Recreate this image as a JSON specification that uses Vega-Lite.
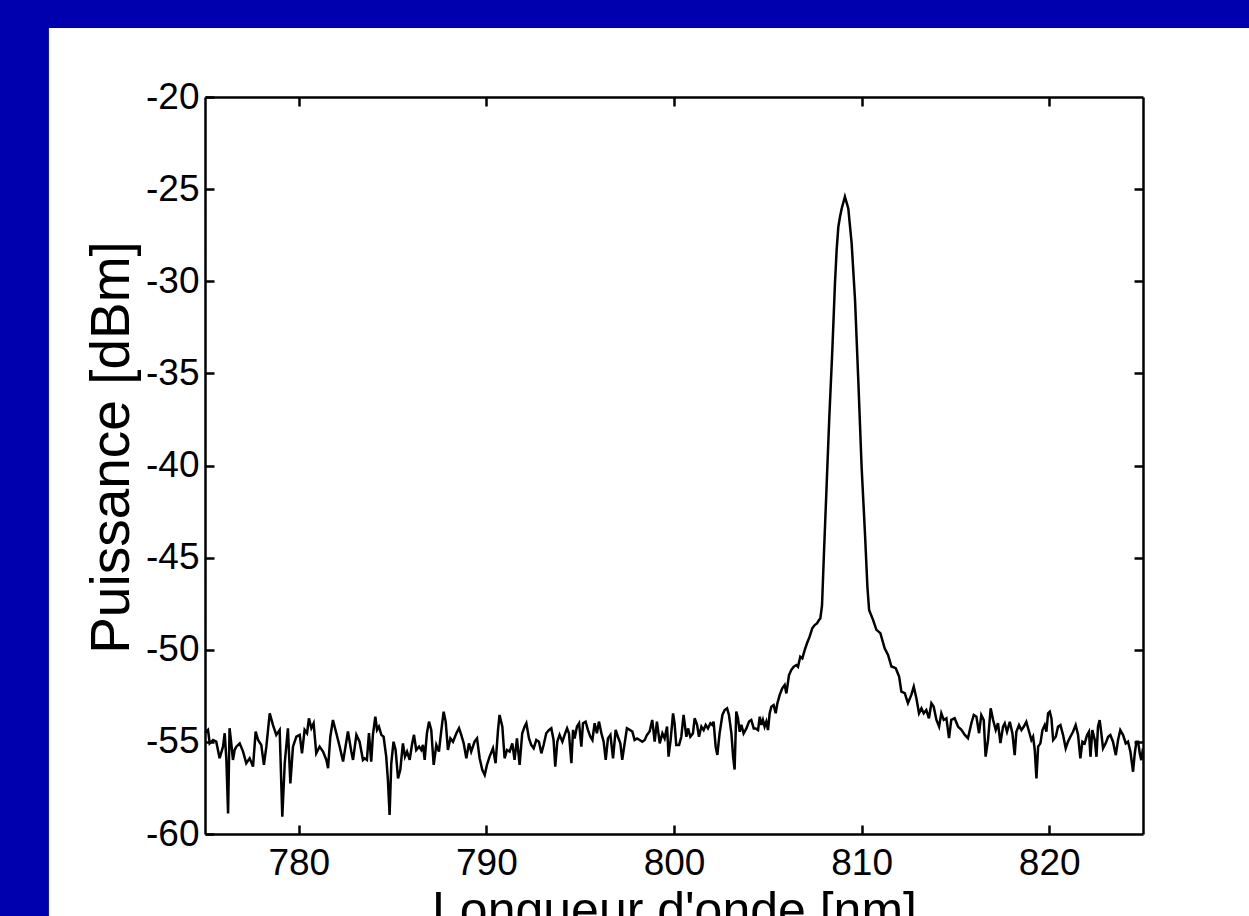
{
  "$schema": "https://vega.github.io/schema/vega-lite/v6.json",
  "width": 938,
  "height": 737,
  "autosize": "none",
  "padding": {"left": 205, "top": 97, "right": 106, "bottom": 82},
  "background": "#0000AF",
  "config": {"view": {"stroke": null}, "font": "Liberation Sans"},
  "resolve": {"axis": {"x": "independent", "y": "independent"}},
  "layer": [
    {
      "data": {"values": [{}]},
      "mark": {"type": "rect", "color": "white"},
      "encoding": {
        "x": {"datum": 766.68, "type": "quantitative", "scale": {"domain": [775, 825], "nice": false, "zero": false},
          "axis": {"orient": "top", "values": [780, 790, 800, 810, 820], "labels": false, "title": null, "grid": false, "tickSize": -9, "tickWidth": 2.5, "tickColor": "black", "domainColor": "black", "domainWidth": 2.5, "zindex": 1}},
        "x2": {"datum": 850},
        "y": {"datum": -16.26, "type": "quantitative", "scale": {"domain": [-60, -20], "nice": false, "zero": false},
          "axis": {"orient": "right", "values": [-55, -50, -45, -40, -35, -30, -25], "labels": false, "title": null, "grid": false, "tickSize": -9, "tickWidth": 2.5, "tickColor": "black", "domainColor": "black", "domainWidth": 2.5, "zindex": 1}},
        "y2": {"datum": -80}
      }
    },
    {
      "data": {"values": [
        {"wl": 775.00, "p": -54.5}, {"wl": 775.16, "p": -54.35}, {"wl": 775.25, "p": -55.08}, {"wl": 775.43, "p": -54.90},
        {"wl": 775.60, "p": -54.99}, {"wl": 775.78, "p": -55.89}, {"wl": 775.96, "p": -55.26}, {"wl": 776.05, "p": -54.53},
        {"wl": 776.14, "p": -55.98}, {"wl": 776.23, "p": -58.88}, {"wl": 776.31, "p": -54.26}, {"wl": 776.40, "p": -55.08},
        {"wl": 776.49, "p": -55.98}, {"wl": 776.58, "p": -55.44}, {"wl": 776.67, "p": -55.26}, {"wl": 776.85, "p": -55.08},
        {"wl": 777.03, "p": -55.53}, {"wl": 777.20, "p": -56.16}, {"wl": 777.38, "p": -55.89}, {"wl": 777.56, "p": -56.34},
        {"wl": 777.70, "p": -54.44}, {"wl": 777.83, "p": -54.90}, {"wl": 778.00, "p": -55.17}, {"wl": 778.14, "p": -56.25},
        {"wl": 778.27, "p": -55.26}, {"wl": 778.45, "p": -53.45}, {"wl": 778.62, "p": -54.08}, {"wl": 778.80, "p": -54.62},
        {"wl": 778.98, "p": -54.35}, {"wl": 779.12, "p": -59.06}, {"wl": 779.25, "p": -56.16}, {"wl": 779.42, "p": -54.26},
        {"wl": 779.55, "p": -57.25}, {"wl": 779.69, "p": -55.26}, {"wl": 779.87, "p": -54.72}, {"wl": 780.05, "p": -54.62},
        {"wl": 780.17, "p": -55.62}, {"wl": 780.31, "p": -54.35}, {"wl": 780.44, "p": -54.53}, {"wl": 780.54, "p": -53.72},
        {"wl": 780.67, "p": -54.26}, {"wl": 780.79, "p": -53.99}, {"wl": 780.93, "p": -55.62}, {"wl": 781.11, "p": -55.26},
        {"wl": 781.29, "p": -55.53}, {"wl": 781.47, "p": -55.98}, {"wl": 781.56, "p": -56.43}, {"wl": 781.68, "p": -54.72},
        {"wl": 781.82, "p": -53.81}, {"wl": 782.00, "p": -54.53}, {"wl": 782.18, "p": -55.26}, {"wl": 782.36, "p": -56.07},
        {"wl": 782.62, "p": -54.44}, {"wl": 782.80, "p": -55.53}, {"wl": 782.89, "p": -55.98}, {"wl": 783.07, "p": -54.62},
        {"wl": 783.24, "p": -54.99}, {"wl": 783.42, "p": -55.98},
        {"wl": 783.51, "p": -55.89}, {"wl": 783.63, "p": -55.98}, {"wl": 783.74, "p": -54.53}, {"wl": 783.86, "p": -56.07},
        {"wl": 783.95, "p": -54.62}, {"wl": 784.08, "p": -53.63}, {"wl": 784.17, "p": -54.35}, {"wl": 784.27, "p": -54.17},
        {"wl": 784.40, "p": -54.62}, {"wl": 784.52, "p": -54.72}, {"wl": 784.66, "p": -55.80}, {"wl": 784.75, "p": -57.07},
        {"wl": 784.84, "p": -58.97}, {"wl": 784.93, "p": -56.16}, {"wl": 785.05, "p": -54.99}, {"wl": 785.16, "p": -55.44},
        {"wl": 785.29, "p": -56.98}, {"wl": 785.41, "p": -56.52}, {"wl": 785.55, "p": -55.08}, {"wl": 785.66, "p": -55.80},
        {"wl": 785.77, "p": -55.53}, {"wl": 785.91, "p": -55.98}, {"wl": 786.03, "p": -55.17}, {"wl": 786.14, "p": -54.62},
        {"wl": 786.26, "p": -55.44}, {"wl": 786.41, "p": -55.26}, {"wl": 786.53, "p": -55.44}, {"wl": 786.62, "p": -55.17},
        {"wl": 786.71, "p": -55.98}, {"wl": 786.83, "p": -54.53}, {"wl": 786.94, "p": -53.90}, {"wl": 787.06, "p": -54.35},
        {"wl": 787.19, "p": -56.25}, {"wl": 787.33, "p": -55.17}, {"wl": 787.47, "p": -55.53}, {"wl": 787.60, "p": -54.35},
        {"wl": 787.72, "p": -53.36}, {"wl": 787.83, "p": -53.90}, {"wl": 787.95, "p": -55.44}, {"wl": 788.08, "p": -54.81},
        {"wl": 788.22, "p": -54.99}, {"wl": 788.40, "p": -54.53}, {"wl": 788.54, "p": -54.26}, {"wl": 788.66, "p": -54.62},
        {"wl": 788.79, "p": -55.08}, {"wl": 788.93, "p": -55.89}, {"wl": 789.07, "p": -55.08}, {"wl": 789.19, "p": -55.53},
        {"wl": 789.37, "p": -54.99}, {"wl": 789.50, "p": -54.81}, {"wl": 789.64, "p": -55.89}, {"wl": 789.78, "p": -56.52},
        {"wl": 789.91, "p": -56.80}, {"wl": 790.03, "p": -56.25}, {"wl": 790.17, "p": -55.80}, {"wl": 790.35, "p": -55.35},
        {"wl": 790.49, "p": -56.16}, {"wl": 790.62, "p": -54.35}, {"wl": 790.70, "p": -53.54}, {"wl": 790.85, "p": -54.17},
        {"wl": 790.97, "p": -55.89}, {"wl": 791.10, "p": -55.44}, {"wl": 791.24, "p": -55.53}, {"wl": 791.38, "p": -55.08},
        {"wl": 791.50, "p": -55.98}, {"wl": 791.63, "p": -54.81}, {"wl": 791.77, "p": -56.25}, {"wl": 791.91, "p": -54.53},
        {"wl": 792.04, "p": -54.17},
        {"wl": 792.13, "p": -53.99}, {"wl": 792.27, "p": -54.81}, {"wl": 792.39, "p": -55.17}, {"wl": 792.52, "p": -55.35},
        {"wl": 792.66, "p": -54.90}, {"wl": 792.80, "p": -54.99}, {"wl": 792.93, "p": -55.62}, {"wl": 793.05, "p": -55.17},
        {"wl": 793.19, "p": -54.53}, {"wl": 793.34, "p": -54.35}, {"wl": 793.46, "p": -54.26}, {"wl": 793.58, "p": -54.90},
        {"wl": 793.67, "p": -56.34}, {"wl": 793.78, "p": -54.99}, {"wl": 793.90, "p": -54.62}, {"wl": 794.05, "p": -54.99},
        {"wl": 794.17, "p": -54.62}, {"wl": 794.30, "p": -54.26}, {"wl": 794.40, "p": -54.53}, {"wl": 794.53, "p": -56.16},
        {"wl": 794.62, "p": -54.35}, {"wl": 794.70, "p": -54.81}, {"wl": 794.83, "p": -54.17}, {"wl": 794.94, "p": -53.99},
        {"wl": 795.06, "p": -55.26}, {"wl": 795.15, "p": -53.99}, {"wl": 795.29, "p": -53.90}, {"wl": 795.41, "p": -54.35},
        {"wl": 795.54, "p": -54.72}, {"wl": 795.65, "p": -54.90}, {"wl": 795.77, "p": -53.99}, {"wl": 795.89, "p": -54.53},
        {"wl": 796.00, "p": -53.90}, {"wl": 796.13, "p": -54.53}, {"wl": 796.25, "p": -54.99}, {"wl": 796.36, "p": -55.98},
        {"wl": 796.48, "p": -54.81}, {"wl": 796.61, "p": -54.62}, {"wl": 796.75, "p": -55.89}, {"wl": 796.89, "p": -54.35},
        {"wl": 797.01, "p": -54.72}, {"wl": 797.14, "p": -55.08}, {"wl": 797.24, "p": -55.98}, {"wl": 797.37, "p": -55.08},
        {"wl": 797.49, "p": -54.26}, {"wl": 797.64, "p": -54.35}, {"wl": 797.78, "p": -54.44}, {"wl": 797.90, "p": -54.90},
        {"wl": 798.03, "p": -54.81}, {"wl": 798.17, "p": -54.90}, {"wl": 798.31, "p": -54.99}, {"wl": 798.44, "p": -54.90},
        {"wl": 798.56, "p": -54.62}, {"wl": 798.70, "p": -54.44}, {"wl": 798.84, "p": -53.81}, {"wl": 798.97, "p": -54.99},
        {"wl": 799.09, "p": -53.90}, {"wl": 799.24, "p": -55.08}, {"wl": 799.38, "p": -54.53}, {"wl": 799.50, "p": -54.81},
        {"wl": 799.63, "p": -54.17}, {"wl": 799.71, "p": -55.80}, {"wl": 799.82, "p": -54.90}, {"wl": 799.95, "p": -53.45},
        {"wl": 800.03, "p": -53.99}, {"wl": 800.12, "p": -55.17}, {"wl": 800.27, "p": -55.17}, {"wl": 800.39, "p": -54.72},
        {"wl": 800.51, "p": -53.54},
        {"wl": 800.66, "p": -54.72}, {"wl": 800.75, "p": -54.27}, {"wl": 800.87, "p": -54.72}, {"wl": 801.01, "p": -54.54},
        {"wl": 801.10, "p": -53.72}, {"wl": 801.23, "p": -54.08}, {"wl": 801.33, "p": -54.72}, {"wl": 801.46, "p": -54.17},
        {"wl": 801.58, "p": -54.36}, {"wl": 801.69, "p": -54.08}, {"wl": 801.81, "p": -54.27}, {"wl": 801.94, "p": -53.99},
        {"wl": 802.04, "p": -54.08}, {"wl": 802.11, "p": -53.90}, {"wl": 802.22, "p": -55.26}, {"wl": 802.31, "p": -55.71},
        {"wl": 802.43, "p": -54.54}, {"wl": 802.58, "p": -53.54}, {"wl": 802.70, "p": -53.27}, {"wl": 802.83, "p": -53.18},
        {"wl": 802.93, "p": -53.54}, {"wl": 803.06, "p": -54.54}, {"wl": 803.15, "p": -55.80}, {"wl": 803.23, "p": -56.50},
        {"wl": 803.32, "p": -53.36}, {"wl": 803.41, "p": -53.72}, {"wl": 803.50, "p": -54.45}, {"wl": 803.59, "p": -54.08},
        {"wl": 803.71, "p": -54.54}, {"wl": 803.86, "p": -54.27}, {"wl": 804.00, "p": -53.90}, {"wl": 804.12, "p": -53.81},
        {"wl": 804.25, "p": -54.27}, {"wl": 804.35, "p": -54.27}, {"wl": 804.48, "p": -54.36}, {"wl": 804.57, "p": -53.63},
        {"wl": 804.66, "p": -54.08}, {"wl": 804.74, "p": -53.81}, {"wl": 804.83, "p": -54.17}, {"wl": 804.92, "p": -53.90},
        {"wl": 805.01, "p": -54.36}, {"wl": 805.10, "p": -53.45}, {"wl": 805.19, "p": -53.09}, {"wl": 805.31, "p": -53.00},
        {"wl": 805.42, "p": -53.45}, {"wl": 805.51, "p": -52.91}, {"wl": 805.63, "p": -52.46}, {"wl": 805.77, "p": -52.09},
        {"wl": 805.90, "p": -51.91}, {"wl": 805.99, "p": -52.37}, {"wl": 806.13, "p": -51.37}, {"wl": 806.25, "p": -51.10},
        {"wl": 806.38, "p": -50.92}, {"wl": 806.52, "p": -50.83}, {"wl": 806.61, "p": -50.92}, {"wl": 806.73, "p": -50.38},
        {"wl": 806.84, "p": -50.47}, {"wl": 806.97, "p": -50.01}, {"wl": 807.09, "p": -49.65}, {"wl": 807.23, "p": -49.29},
        {"wl": 807.37, "p": -48.84}, {"wl": 807.50, "p": -48.66}, {"wl": 807.62, "p": -48.57}, {"wl": 807.73, "p": -48.39},
        {"wl": 807.80, "p": -48.30}, {"wl": 807.89, "p": -47.60}, {"wl": 808.00, "p": -44.59}, {"wl": 808.14, "p": -40.97},
        {"wl": 808.28, "p": -37.35}, {"wl": 808.44, "p": -33.73}, {"wl": 808.58, "p": -30.12}, {"wl": 808.67, "p": -28.30},
        {"wl": 808.76, "p": -27.04}, {"wl": 808.85, "p": -26.50}, {"wl": 808.94, "p": -26.05}, {"wl": 809.11, "p": -25.41},
        {"wl": 809.29, "p": -26.05}, {"wl": 809.47, "p": -27.95}, {"wl": 809.65, "p": -31.02}, {"wl": 809.83, "p": -35.54},
        {"wl": 810.00, "p": -40.07}, {"wl": 810.18, "p": -43.69}, {"wl": 810.31, "p": -46.60}, {"wl": 810.40, "p": -47.84},
        {"wl": 810.61, "p": -48.38}, {"wl": 810.79, "p": -48.92}, {"wl": 811.00, "p": -49.10}, {"wl": 811.23, "p": -49.92},
        {"wl": 811.41, "p": -50.28}, {"wl": 811.59, "p": -50.91}, {"wl": 811.82, "p": -51.00}, {"wl": 812.00, "p": -51.46},
        {"wl": 812.12, "p": -52.27}, {"wl": 812.30, "p": -52.36}, {"wl": 812.47, "p": -52.90}, {"wl": 812.65, "p": -52.45},
        {"wl": 812.78, "p": -52.00}, {"wl": 812.92, "p": -52.63}, {"wl": 813.06, "p": -53.45}, {"wl": 813.19, "p": -53.18},
        {"wl": 813.31, "p": -53.45}, {"wl": 813.45, "p": -53.27}, {"wl": 813.59, "p": -53.72}, {"wl": 813.72, "p": -52.90},
        {"wl": 813.84, "p": -53.08}, {"wl": 813.99, "p": -53.81}, {"wl": 814.13, "p": -54.17}, {"wl": 814.25, "p": -53.45},
        {"wl": 814.38, "p": -53.81}, {"wl": 814.52, "p": -53.72}, {"wl": 814.66, "p": -54.80}, {"wl": 814.78, "p": -53.81},
        {"wl": 814.96, "p": -53.72}, {"wl": 815.14, "p": -54.17}, {"wl": 815.32, "p": -54.35}, {"wl": 815.50, "p": -54.62},
        {"wl": 815.67, "p": -54.80}, {"wl": 815.85, "p": -53.99}, {"wl": 815.98, "p": -53.54}, {"wl": 816.12, "p": -53.63},
        {"wl": 816.26, "p": -54.53}, {"wl": 816.38, "p": -53.54}, {"wl": 816.51, "p": -53.81}, {"wl": 816.61, "p": -55.80},
        {"wl": 816.74, "p": -54.89}, {"wl": 816.88, "p": -53.18}, {"wl": 817.01, "p": -53.81}, {"wl": 817.15, "p": -54.35},
        {"wl": 817.27, "p": -53.99}, {"wl": 817.40, "p": -55.07}, {"wl": 817.54, "p": -54.17},
        {"wl": 817.63, "p": -54.00}, {"wl": 817.75, "p": -54.45}, {"wl": 817.90, "p": -53.91}, {"wl": 818.04, "p": -54.54},
        {"wl": 818.16, "p": -55.72}, {"wl": 818.25, "p": -54.45}, {"wl": 818.39, "p": -54.09}, {"wl": 818.52, "p": -54.36},
        {"wl": 818.64, "p": -54.18}, {"wl": 818.78, "p": -53.91}, {"wl": 818.93, "p": -54.45}, {"wl": 819.05, "p": -54.90},
        {"wl": 819.14, "p": -54.72}, {"wl": 819.23, "p": -55.44}, {"wl": 819.32, "p": -56.98}, {"wl": 819.41, "p": -55.26},
        {"wl": 819.53, "p": -55.08}, {"wl": 819.64, "p": -54.36}, {"wl": 819.76, "p": -54.09}, {"wl": 819.85, "p": -54.45},
        {"wl": 819.94, "p": -53.45}, {"wl": 820.03, "p": -53.36}, {"wl": 820.12, "p": -53.73}, {"wl": 820.21, "p": -54.90},
        {"wl": 820.35, "p": -54.72}, {"wl": 820.47, "p": -54.18}, {"wl": 820.60, "p": -54.09}, {"wl": 820.74, "p": -54.63},
        {"wl": 820.88, "p": -55.35}, {"wl": 821.00, "p": -54.99}, {"wl": 821.13, "p": -54.72}, {"wl": 821.27, "p": -54.45},
        {"wl": 821.41, "p": -54.09}, {"wl": 821.54, "p": -54.63}, {"wl": 821.66, "p": -55.90}, {"wl": 821.77, "p": -54.99},
        {"wl": 821.89, "p": -55.08}, {"wl": 822.02, "p": -54.63}, {"wl": 822.12, "p": -54.45}, {"wl": 822.20, "p": -55.81},
        {"wl": 822.30, "p": -54.36}, {"wl": 822.43, "p": -54.90}, {"wl": 822.52, "p": -55.81}, {"wl": 822.60, "p": -54.18},
        {"wl": 822.69, "p": -53.82}, {"wl": 822.78, "p": -54.54}, {"wl": 822.87, "p": -55.35}, {"wl": 823.01, "p": -55.08},
        {"wl": 823.14, "p": -54.72}, {"wl": 823.26, "p": -54.63}, {"wl": 823.40, "p": -54.99}, {"wl": 823.55, "p": -55.72},
        {"wl": 823.67, "p": -54.90}, {"wl": 823.79, "p": -54.36}, {"wl": 823.94, "p": -54.63}, {"wl": 824.08, "p": -55.08},
        {"wl": 824.20, "p": -54.99}, {"wl": 824.33, "p": -55.54}, {"wl": 824.47, "p": -56.62}, {"wl": 824.56, "p": -55.63},
        {"wl": 824.65, "p": -54.99}, {"wl": 824.74, "p": -54.99}, {"wl": 824.83, "p": -55.63}, {"wl": 824.91, "p": -55.99},
        {"wl": 825.00, "p": -55.35}
      ]},
      "mark": {"type": "line", "color": "black", "strokeWidth": 2.5},
      "encoding": {
        "x": {"field": "wl", "type": "quantitative", "scale": {"domain": [775, 825], "nice": false, "zero": false},
          "axis": {"orient": "bottom", "values": [780, 790, 800, 810, 820], "grid": false, "zindex": 1,
            "tickSize": -9, "tickWidth": 2.5, "tickColor": "black", "domainColor": "black", "domainWidth": 2.5,
            "labelFontSize": 37, "labelColor": "black", "labelFont": "Liberation Sans", "labelPadding": 20, "labelFlush": false,
            "title": "Longueur d'onde [nm]", "titleFont": "Liberation Sans", "titleFontSize": 50, "titleFontWeight": "normal", "titleColor": "black",
            "titleBaseline": "top", "titleY": 52}},
        "y": {"field": "p", "type": "quantitative", "scale": {"domain": [-60, -20], "nice": false, "zero": false},
          "axis": {"orient": "left", "values": [-60, -55, -50, -45, -40, -35, -30, -25, -20], "grid": false, "zindex": 1,
            "labelExpr": "'' + datum.value",
            "tickSize": -9, "tickWidth": 2.5, "tickColor": "black", "domainColor": "black", "domainWidth": 2.5,
            "labelFontSize": 37, "labelColor": "black", "labelFont": "Liberation Sans", "labelPadding": 15, "labelFlush": false,
            "title": "Puissance [dBm]", "titleFont": "Liberation Sans", "titleFontSize": 55, "titleFontWeight": "normal", "titleColor": "black",
            "titleBaseline": "alphabetic", "titleX": -77, "titleY": 350}}
      }
    }
  ]
}
